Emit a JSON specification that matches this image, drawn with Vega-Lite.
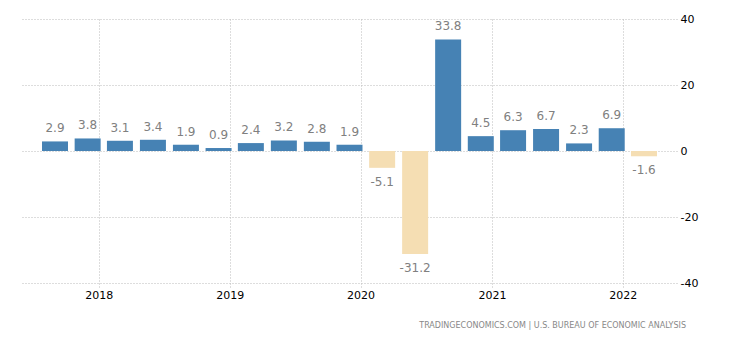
{
  "$schema": "https://vega.github.io/schema/vega-lite/v6.json",
  "autosize": {"type": "none"},
  "width": 655,
  "height": 264,
  "padding": {"left": 22, "top": 19, "right": 53, "bottom": 57},
  "background": "white",
  "title": {
    "text": "TRADINGECONOMICS.COM  |  U.S.  BUREAU  OF  ECONOMIC  ANALYSIS",
    "orient": "bottom",
    "anchor": "end",
    "font": "DejaVu Sans",
    "fontSize": 8,
    "fontWeight": "normal",
    "color": "#888888",
    "offset": 22,
    "dx": -12
  },
  "config": {
    "view": {"stroke": null},
    "axis": {"labelFont": "DejaVu Sans", "labelFontSize": 11, "labelColor": "#000000"}
  },
  "data": {
    "values": [
      {"date": "2017-09-01", "value": 2.9},
      {"date": "2017-12-01", "value": 3.8},
      {"date": "2018-03-01", "value": 3.1},
      {"date": "2018-06-01", "value": 3.4},
      {"date": "2018-09-01", "value": 1.9},
      {"date": "2018-12-01", "value": 0.9},
      {"date": "2019-03-01", "value": 2.4},
      {"date": "2019-06-01", "value": 3.2},
      {"date": "2019-09-01", "value": 2.8},
      {"date": "2019-12-01", "value": 1.9},
      {"date": "2020-03-01", "value": -5.1},
      {"date": "2020-06-01", "value": -31.2},
      {"date": "2020-09-01", "value": 33.8},
      {"date": "2020-12-01", "value": 4.5},
      {"date": "2021-03-01", "value": 6.3},
      {"date": "2021-06-01", "value": 6.7},
      {"date": "2021-09-01", "value": 2.3},
      {"date": "2021-12-01", "value": 6.9},
      {"date": "2022-03-01", "value": -1.6}
    ]
  },
  "encoding": {
    "x": {
      "field": "date",
      "type": "temporal",
      "scale": {"type": "utc", "padding": 0, "domain": [{"year": 2017, "month": 6, "date": 1, "utc": true}, {"year": 2022, "month": 6, "date": 1, "utc": true}]},
      "axis": {
        "title": null,
        "format": "%Y",
        "tickCount": {"interval": "year", "step": 1},
        "grid": true,
        "gridColor": "#bbbbbb",
        "gridDash": [1, 2],
        "domain": false,
        "ticks": true,
        "tickSize": 4,
        "tickColor": "#bbbbbb",
        "tickDash": [1, 2],
        "labelPadding": 2
      }
    },
    "y": {
      "field": "value",
      "type": "quantitative",
      "scale": {"domain": [-40, 40], "nice": false},
      "axis": {
        "title": null,
        "orient": "right",
        "values": [-40, -20, 0, 20, 40],
        "labelExpr": "toString(datum.value)",
        "grid": true,
        "gridColor": "#bbbbbb",
        "gridDash": [1, 2],
        "domain": false,
        "ticks": false,
        "labelPadding": 3,
        "labelAlign": "left",
        "labelBaseline": "middle"
      }
    }
  },
  "layer": [
    {
      "mark": {"type": "bar", "width": 26},
      "encoding": {
        "color": {
          "condition": {"test": "datum.value < 0", "value": "#F5DEB3"},
          "value": "#4682B4"
        }
      }
    },
    {
      "transform": [{"filter": "datum.value >= 0"}],
      "mark": {"type": "text", "baseline": "bottom", "dy": -6, "font": "DejaVu Sans", "fontSize": 12, "color": "#808080"},
      "encoding": {"text": {"field": "value", "type": "nominal"}}
    },
    {
      "transform": [{"filter": "datum.value < 0"}],
      "mark": {"type": "text", "baseline": "top", "dy": 9, "font": "DejaVu Sans", "fontSize": 12, "color": "#808080"},
      "encoding": {"text": {"field": "value", "type": "nominal"}}
    }
  ]
}
